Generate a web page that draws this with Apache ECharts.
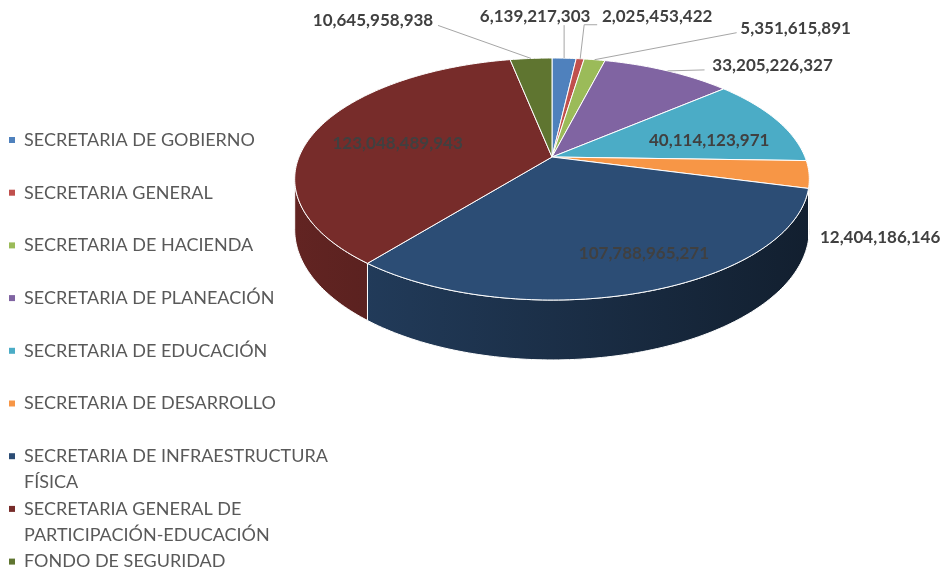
<!DOCTYPE html>
<html>
<head>
<meta charset="utf-8">
<script src="https://cdn.jsdelivr.net/npm/echarts@6/dist/echarts.min.js"></script>
<style>
    html, body { margin: 0; padding: 0; background: #fff; }
    #main { width: 942px; height: 574px; }
</style>
</head>
<body>
<div id="main"></div>
<script>
// datos
var categories = [
    'SECRETARIA DE GOBIERNO',
    'SECRETARIA GENERAL',
    'SECRETARIA DE HACIENDA',
    'SECRETARIA DE PLANEACIÓN',
    'SECRETARIA DE EDUCACIÓN',
    'SECRETARIA DE DESARROLLO',
    'SECRETARIA DE INFRAESTRUCTURA FÍSICA',
    'SECRETARIA GENERAL DE PARTICIPACIÓN-EDUCACIÓN',
    'FONDO DE SEGURIDAD'
];
var values = [
    6139217303,
    2025453422,
    5351615891,
    33205226327,
    40114123971,
    12404186146,
    107788965271,
    123048489943,
    10645958938
];

// estilo
var colors = ['#4F81BD', '#C0504D', '#9BBB59', '#8064A2', '#4BACC6', '#F79646', '#2C4D75', '#772C2A', '#5F7530'];

// pastel 3D: centro, radios, perspectiva, grosor
var pie = { cx: 552, cy: 157, rx: 253, ry: 117, k: 0.182, depth: 49 };

// posicion de etiquetas: radio, desplazamiento, linea guia (relativa al texto)
var labelLayout = [
    { r: 1, dx: -29, dy: -42, line: [[29, 9]] },
    { r: 1, dx: 77, dy: -42, line: [[-73, 8], [-60, 8]] },
    { r: 1, dx: 201, dy: -31, line: [[-59, 4]] },
    { r: 1, dx: 105, dy: -5, line: [[-68, 4]] },
    { r: 0.65, dx: 8, dy: 8 },
    { r: 1, dx: 71, dy: 63 },
    { r: 0.7, dx: 29, dy: 8 },
    { r: 0.65, dx: 1, dy: 4 },
    { r: 1, dx: -158, dy: -38, line: [[65, 5]] }
];

var total = values.reduce(function (a, b) { return a + b; }, 0);
var startAngles = [];
var acc = 0;
values.forEach(function (v) { startAngles.push(acc / total * 360); acc += v; });

function proj(deg, r, dz) {
    var t = deg * Math.PI / 180;
    var u = r * Math.sin(t), v = r * Math.cos(t);
    var d = 1 + pie.k * v;
    return [pie.cx + pie.rx * u / d, pie.cy - pie.ry * v / d + (dz || 0) * pie.depth / d];
}

function arc(a0, a1, dz) {
    var n = Math.max(2, Math.ceil(Math.abs(a1 - a0)));
    var pts = [];
    for (var i = 0; i <= n; i++) pts.push(proj(a0 + (a1 - a0) * i / n, 1, dz));
    return pts;
}

function shade(hex, f) {
    var c = parseInt(hex.slice(1), 16);
    var r = Math.round(((c >> 16) & 255) * f), g = Math.round(((c >> 8) & 255) * f), b = Math.round((c & 255) * f);
    return 'rgb(' + r + ',' + g + ',' + b + ')';
}

function fmt(n) {
    return String(n).replace(/\B(?=(\d{3})+(?!\d))/g, ',');
}

function wrap(name) {
    var words = name.split(' '), lines = [], cur = '';
    words.forEach(function (w) {
        if (cur && (cur + ' ' + w).length > 29) { lines.push(cur); cur = w; }
        else cur = cur ? cur + ' ' + w : w;
    });
    lines.push(cur);
    return lines.join('\n');
}

// leyenda: con dos lineas se antepone una linea vacia para que el icono quede en la primera
function legendText(name) {
    var w = wrap(name);
    return w.indexOf('\n') >= 0 ? '\n' + w : w;
}

function renderSlice(params, api) {
    var i = api.value(0);
    var a0 = startAngles[i];
    var a1 = a0 + values[i] / total * 360;
    var color = colors[i];
    var children = [];

    // pared lateral (solo la parte frontal visible)
    var lo = Math.max(a0, 100.5), hi = Math.min(a1, 259.5);
    if (hi > lo) {
        var wall = arc(lo, hi, 0).concat(arc(hi, lo, 1));
        children.push({
            type: 'polygon',
            z2: 0,
            shape: { points: wall },
            style: {
                fill: new echarts.graphic.LinearGradient(295, 0, 810, 0, [
                    { offset: 0, color: shade(color, 0.82) },
                    { offset: 1, color: shade(color, 0.40) }
                ], true),
                stroke: '#fff',
                lineWidth: 1
            }
        });
    }

    // cara superior
    children.push({
        type: 'polygon',
        z2: 10,
        shape: { points: [proj(0, 0, 0)].concat(arc(a0, a1, 0)) },
        style: { fill: color, stroke: '#fff', lineWidth: 1 }
    });

    // etiqueta
    var mid = (a0 + a1) / 2;
    var L = labelLayout[i];
    var p = proj(mid, L.r, 0);
    var tx = p[0] + L.dx, ty = p[1] + L.dy;
    if (L.line) {
        var pts = [proj(mid, 1, 0)];
        L.line.forEach(function (o) { pts.push([tx + o[0], ty + o[1]]); });
        children.push({
            type: 'polyline',
            z2: 15,
            shape: { points: pts },
            style: { stroke: '#a6a6a6', lineWidth: 1, fill: null }
        });
    }
    children.push({
        type: 'text',
        z2: 20,
        style: {
            text: fmt(values[i]),
            x: tx,
            y: ty,
            fill: '#404040',
            fontFamily: 'Lato',
            fontWeight: 'bold',
            fontSize: 17,
            align: 'center',
            verticalAlign: 'middle'
        }
    });

    return { type: 'group', children: children };
}

var chart = echarts.init(document.getElementById('main'));

var option = {
    backgroundColor: '#fff',
    animation: false,
    legend: categories.map(function (name, i) {
        var twoLines = wrap(name).indexOf('\n') >= 0;
        var y = 140 + i * 52.7;
        return {
            data: [name],
            left: 9,
            top: y - (twoLines ? 39 : 13),
            orient: 'vertical',
            padding: 0,
            icon: 'rect',
            itemWidth: 6,
            itemHeight: 6,
            selectedMode: false,
            formatter: legendText,
            textStyle: {
                fontFamily: 'Lato',
                fontSize: 18,
                color: '#595959',
                lineHeight: 26,
                padding: [0, 0, 0, 4]
            }
        };
    }),
    series: categories.map(function (name, i) {
        return {
            type: 'custom',
            name: name,
            coordinateSystem: 'none',
            silent: true,
            itemStyle: { color: colors[i] },
            renderItem: renderSlice,
            data: [[i]]
        };
    })
};

chart.setOption(option);
</script>
</body>
</html>
